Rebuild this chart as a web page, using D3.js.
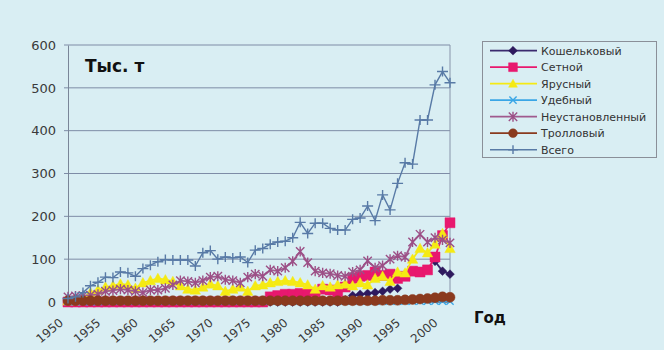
<!DOCTYPE html>
<html><head><meta charset="utf-8">
<script src="https://cdn.jsdelivr.net/npm/d3@7"></script>
<style>
html,body{margin:0;padding:0;background:#d9eef3;}
svg{display:block;}
text{font-family:"DejaVu Sans",sans-serif;}
</style></head>
<body><svg id="c" width="664" height="350"></svg>
<script>
const years = [1950,1951,1952,1953,1954,1955,1956,1957,1958,1959,1960,1961,1962,1963,1964,1965,1966,1967,1968,1969,1970,1971,1972,1973,1974,1975,1976,1977,1978,1979,1980,1981,1982,1983,1984,1985,1986,1987,1988,1989,1990,1991,1992,1993,1994,1995,1996,1997,1998,1999,2000,2001];
const yTicks = [0,100,200,300,400,500,600];
const xTickLabels = [1950,1955,1960,1965,1970,1975,1980,1985,1990,1995,2000];
const seriesNames = ["Кошельковый","Сетной","Ярусный","Удебный","Неустановленный","Тролловый","Всего"];

const koshelkovy = [0,0,0,0,0,0,0,0,0,0,0,0,0,0,0,0,0,0,0,0,0,0,0,0,0,0,0,0,0,0,0,0,0,0,0,0,0,5,15,18,20,22,25,30,32,null,null,null,null,95,72,65];
const setnoy = [0,0,0,0,0,0,0,0,0,0,0,0,0,0,0,0,0,0,0,0,0,0,0,0,0,0,0,12,15,18,18,20,20,22,30,28,20,35,55,60,62,70,62,65,55,60,72,70,75,105,155,185];
const yarusny = [3,3,5,22,28,35,38,42,40,32,45,50,55,52,48,38,30,28,35,42,38,25,30,35,25,38,40,45,48,50,48,45,40,30,38,35,40,42,38,45,40,55,60,48,70,68,100,125,115,135,160,125];
const udebny = [1,1,1,1,1,2,2,2,2,2,2,2,2,2,2,2,2,2,2,2,2,2,2,2,2,2,2,2,2,2,2,2,2,2,2,2,2,2,2,2,2,2,2,2,2,2,2,2,2,2,2,2];
const neustanovl = [12,14,15,16,18,25,27,30,28,25,22,28,28,32,40,50,48,45,50,58,60,52,50,45,58,65,60,75,72,80,95,118,92,72,68,66,62,60,70,75,96,80,85,100,108,105,140,158,140,150,145,138];
const trollovy = [3,3,3,3,3,3,3,3,3,3,3,3,3,3,3,3,3,3,3,3,3,3,3,3,3,3,3,3,3,3,3,3,3,3,3,3,3,3,3,3,3,3,4,4,4,5,6,7,8,10,12,11];
const vsego = [8,12,22,38,46,58,57,70,68,60,78,86,94,99,98,98,98,84,115,120,100,105,103,105,92,121,125,135,140,142,150,186,160,184,184,172,168,168,193,196,224,190,250,215,277,325,322,425,425,507,538,512];

const seriesValues = [koshelkovy,setnoy,yarusny,udebny,neustanovl,trollovy,vsego];
const colors = ["#2e1a5e","#e8186e","#f5ea14","#3aa6e6","#9c4f86","#8a3a1e","#587aa6"];
const lineColors = ["#3b2a6e","#e8186e","#f5ea14","#3aa6e6","#a05a8e","#8a3a1e","#587aa6"];
const markers = ["diamond","square","triangle","times","asterisk","circle","plus"];

const svg = d3.select("#c");
const L=68,R=450,T=45,B=302;
const x = d3.scalePoint().domain(years).range([L,R]);
const y = d3.scaleLinear().domain([0,600]).range([B,T]);

function markerPath(type, r){
  switch(type){
    case "diamond": return `M0,${-r}L${r},0L0,${r}L${-r},0Z`;
    case "square": return `M${-r},${-r}H${r}V${r}H${-r}Z`;
    case "triangle": return `M0,${-r}L${r},${r*0.8}L${-r},${r*0.8}Z`;
    case "circle": return d3.symbol(d3.symbolCircle, Math.PI*r*r)();
    case "times": return `M${-r},${-r}L${r},${r}M${-r},${r}L${r},${-r}`;
    case "asterisk": return `M${-r},${-r}L${r},${r}M${-r},${r}L${r},${-r}M0,${-r*1.2}V${r*1.2}`;
    case "plus": return `M${-r*1.1},0H${r*1.1}M0,${-r}V${r}`;
  }
}
const filled = {diamond:true,square:true,triangle:true,circle:true};
const mSize = [4.4,5,5.2,3.6,4.2,5,5];

// gridlines
svg.append("g").selectAll("line").data(yTicks).join("line")
  .attr("x1",L-4).attr("x2",R).attr("y1",d=>y(d)).attr("y2",d=>y(d))
  .attr("stroke","#7e8ca6").attr("stroke-width",1);
svg.append("line").attr("x1",R).attr("x2",R).attr("y1",T).attr("y2",B).attr("stroke","#8894aa");
// y axis
const yAxis = d3.axisLeft(y).tickValues(yTicks).tickSize(0).tickPadding(12);
const gy = svg.append("g").attr("transform",`translate(${L},0)`).call(yAxis);
gy.select(".domain").attr("stroke","#7a8698");
gy.selectAll("text").attr("font-size",13).attr("fill","#3a3a3a").attr("font-family","DejaVu Sans");

// x axis with slanted labels
const xAxis = d3.axisBottom(x).tickValues(xTickLabels).tickSize(0).tickFormat("");
const gx = svg.append("g").attr("transform",`translate(0,${B})`).call(xAxis);
gx.select(".domain").attr("stroke","#7a8698");
svg.append("g").selectAll("text").data(xTickLabels).join("text")
  .attr("transform",d=>`translate(${x(d)-4},${B+22}) rotate(-40)`)
  .attr("text-anchor","end").attr("font-size",12).attr("fill","#3a3a3a")
  .text(d=>d);

// series
const line = d3.line().defined(d=>d.v!==null).x(d=>x(d.yr)).y(d=>y(d.v));
seriesNames.forEach((name,k)=>{
  const data = years.map((yr,i)=>({yr,v:seriesValues[k][i]}));
  const g = svg.append("g");
  g.append("path").datum(data).attr("d",line).attr("fill","none")
    .attr("stroke",lineColors[k]).attr("stroke-width",k===6?1.4:1.8);
  g.selectAll("path.m").data(data.filter(d=>d.v!==null)).join("path").attr("class","m")
    .attr("transform",d=>`translate(${x(d.yr)},${y(d.v)})`)
    .attr("d",markerPath(markers[k],mSize[k]))
    .attr("fill",filled[markers[k]]?colors[k]:"none")
    .attr("stroke",colors[k]).attr("stroke-width",filled[markers[k]]?0.5:1.4);
});

// titles
svg.append("text").attr("x",85).attr("y",72).attr("font-size",17).attr("font-weight","bold").attr("fill","#111").text("Тыс. т");
svg.append("text").attr("x",474).attr("y",323).attr("font-size",15).attr("font-weight","bold").attr("fill","#111").text("Год");

// legend
const lg = svg.append("g");
lg.append("rect").attr("x",482.5).attr("y",41.5).attr("width",174).attr("height",116)
  .attr("fill","none").attr("stroke","#8a8f98");
seriesNames.forEach((name,k)=>{
  const yy = 50.7 + k*16.5;
  lg.append("line").attr("x1",490).attr("x2",537).attr("y1",yy).attr("y2",yy)
    .attr("stroke",lineColors[k]).attr("stroke-width",k===6?1.4:1.8);
  lg.append("path").attr("transform",`translate(513,${yy})`).attr("d",markerPath(markers[k],Math.min(mSize[k],4.4)))
    .attr("fill",filled[markers[k]]?colors[k]:"none").attr("stroke",colors[k]).attr("stroke-width",filled[markers[k]]?0.5:1.4);
  lg.append("text").attr("x",541).attr("y",yy).attr("dy","0.36em").attr("font-size",11).attr("fill","#333").text(name);
});
</script></body></html>
